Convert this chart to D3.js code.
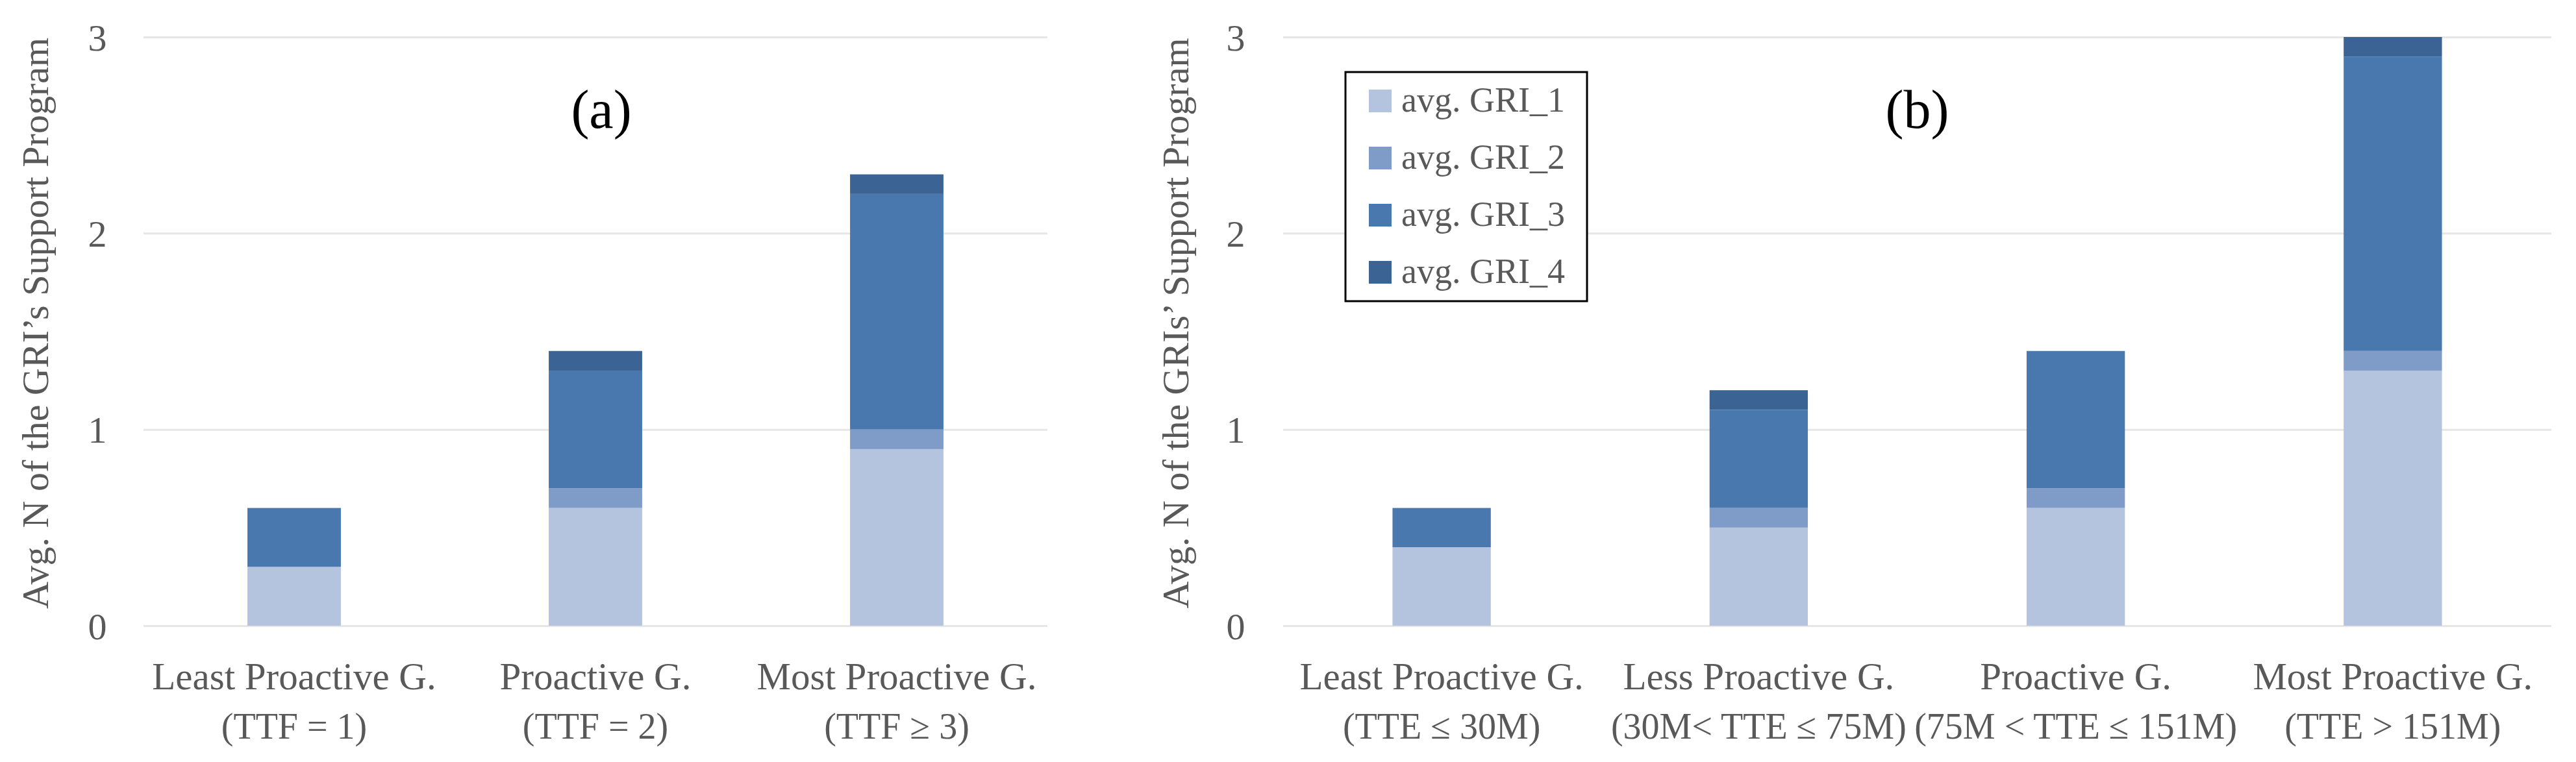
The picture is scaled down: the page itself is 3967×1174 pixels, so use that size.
<!DOCTYPE html>
<html>
<head>
	<meta charset="utf-8">
	<script src="https://d3js.org/d3.v7.min.js"></script>
	<style>
		body { margin: 0; background: #fff; }
		text { font-family: "Liberation Serif", "DejaVu Serif", serif; }
		.grid line { stroke: #e6e6e6; stroke-width: 3px; }
		.grid .domain { display: none; }
		.tick text { fill: #595959; font-size: 58px; }
		.cat { fill: #595959; font-size: 59px; text-anchor: middle; }
		.cat .sub { font-size: 56px; }
		.ytitle { fill: #595959; font-size: 58px; text-anchor: middle; }
		.panel { fill: #000; font-size: 84px; text-anchor: middle; }
		.legend text { fill: #595959; font-size: 54px; }
	</style>
</head>
<body>
<script>

	var series = ["avg. GRI_1", "avg. GRI_2", "avg. GRI_3", "avg. GRI_4"];
	var colors = ["#b4c3de", "#7f9bc7", "#4878ae", "#3b6394"];
	var yTicks = [0, 1, 2, 3];

	// panel (a)
	var catsA = [["Least Proactive G.", "(TTF = 1)"],
		["Proactive G.", "(TTF = 2)"],
		["Most Proactive G.", "(TTF \u2265 3)"]];
	var gri1A = [0.3, 0.6, 0.9];
	var gri2A = [0.0, 0.1, 0.1];
	var gri3A = [0.3, 0.6, 1.2];
	var gri4A = [0.0, 0.1, 0.1];

	// panel (b)
	var catsB = [["Least Proactive G.", "(TTE \u2264 30M)"],
		["Less Proactive G.", "(30M< TTE \u2264 75M)"],
		["Proactive G.", "(75M < TTE \u2264 151M)"],
		["Most Proactive G.", "(TTE > 151M)"]];
	var gri1B = [0.4, 0.5, 0.6, 1.3];
	var gri2B = [0.0, 0.1, 0.1, 0.1];
	var gri3B = [0.2, 0.5, 0.7, 1.5];
	var gri4B = [0.0, 0.1, 0.0, 0.1];

	var width = 3967, height = 1174;

	var svg = d3.select("body").append("svg")
		.attr("width", width)
		.attr("height", height);

	var y = d3.scaleLinear().domain([0, 3]).range([964, 57]);

	function drawPanel(cats, cols, x0, x1, tickX, titleX, titleText, label) {
		var rows = cats.map(function(c, i) {
			var r = { key: i };
			series.forEach(function(s, j) { r[s] = cols[j][i]; });
			return r;
		});

		var x = d3.scaleBand()
			.domain(d3.range(cats.length))
			.range([x0, x1])
			.paddingInner(0.69)
			.paddingOuter(0.345);

		var g = svg.append("g");

		g.append("g")
			.attr("class", "grid")
			.attr("transform", "translate(" + x0 + ",0)")
			.call(d3.axisLeft(y)
				.tickValues(yTicks)
				.tickFormat(d3.format("d"))
				.tickSizeInner(-(x1 - x0))
				.tickSizeOuter(0)
				.tickPadding(x0 - tickX))
			.selectAll("text")
			.attr("text-anchor", "middle")
			.attr("dy", "0.35em");

		var stack = d3.stack().keys(series)(rows);

		g.selectAll(".layer")
			.data(stack)
			.enter().append("g")
			.attr("class", "layer")
			.attr("fill", function(d, i) { return colors[i]; })
			.selectAll("rect")
			.data(function(d) { return d; })
			.enter().append("rect")
			.attr("x", function(d) { return x(d.data.key); })
			.attr("width", x.bandwidth())
			.attr("y", function(d) { return y(d[1]); })
			.attr("height", function(d) { return y(d[0]) - y(d[1]); });

		var cat = g.selectAll(".cat")
			.data(cats)
			.enter().append("text")
			.attr("class", "cat")
			.attr("x", function(d, i) { return x(i) + x.bandwidth() / 2; })
			.attr("y", 1062);
		cat.append("tspan").text(function(d) { return d[0]; });
		cat.append("tspan")
			.attr("class", "sub")
			.attr("x", function(d, i) { return x(i) + x.bandwidth() / 2; })
			.attr("y", 1138)
			.text(function(d) { return d[1]; });

		g.append("text")
			.attr("class", "ytitle")
			.attr("transform", "translate(" + titleX + ",498) rotate(-90)")
			.attr("dy", "0.35em")
			.text(titleText);

		g.append("text")
			.attr("class", "panel")
			.attr("x", (x0 + x1) / 2 + (label == "(a)" ? 9 : 0))
			.attr("y", 197)
			.text(label);

		return g;
	}

	drawPanel(catsA, [gri1A, gri2A, gri3A, gri4A], 221, 1613, 150, 54,
		"Avg. N of the GRI\u2019s Support Program", "(a)");
	drawPanel(catsB, [gri1B, gri2B, gri3B, gri4B], 1976, 3929, 1903, 1810,
		"Avg. N of the GRIs\u2019 Support Program", "(b)");

	// legend
	var legend = svg.append("g")
		.attr("class", "legend")
		.attr("transform", "translate(2072,111)");

	legend.append("rect")
		.attr("width", 372)
		.attr("height", 353)
		.attr("fill", "#fff")
		.attr("stroke", "#000")
		.attr("stroke-width", 3);

	var item = legend.selectAll(".item")
		.data(series)
		.enter().append("g")
		.attr("class", "item")
		.attr("transform", function(d, i) { return "translate(36," + (27 + i * 88) + ")"; });

	item.append("rect")
		.attr("width", 35)
		.attr("height", 35)
		.attr("fill", function(d, i) { return colors[i]; });

	item.append("text")
		.attr("x", 50)
		.attr("y", 34)
		.text(function(d) { return d; });

</script>
</body>
</html>
